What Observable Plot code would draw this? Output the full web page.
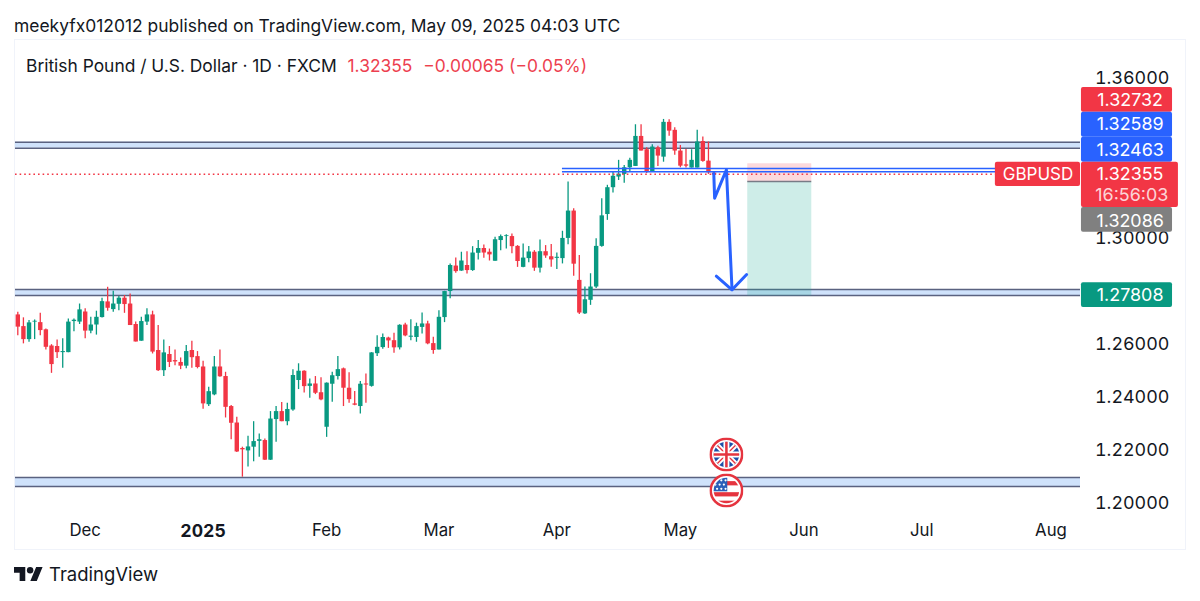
<!DOCTYPE html>
<html><head><meta charset="utf-8">
<script src="https://cdn.jsdelivr.net/npm/d3@7"></script>
<script src="https://cdn.jsdelivr.net/npm/@observablehq/plot@0.6"></script>
<style>
html,body{margin:0;padding:0;background:#fff;width:1200px;height:601px;overflow:hidden;font-family:Inter,sans-serif;color:#131722}
#title{position:absolute;left:14px;top:15px;font-size:17.45px;white-space:nowrap;line-height:22px}
#frame{position:absolute;left:14px;top:39px;width:1170px;height:509px;border:1px solid #f0f3fa}
#legend{position:absolute;left:26px;top:55px;font-size:17.4px;white-space:nowrap;line-height:22px}
#legend .v{color:#ed3f50;margin-left:6px}
#footer{position:absolute;left:14px;top:562px;display:flex;align-items:center;font-size:18.5px;height:24px}
#footer svg{margin-right:6px}
</style></head><body>
<div id="title">meekyfx012012 published on TradingView.com, May 09, 2025 04:03 UTC</div>
<div id="frame"></div>
<div id="legend">British Pound / U.S. Dollar · 1D · FXCM <span class="v">1.32355</span> <span class="v">−0.00065 (−0.05%)</span></div>
<div id="footer"><svg width="29" height="14.5" viewBox="0 4 36 18"><path fill="#131722" d="M14 22H7V11H0V4h14v18zM28 22h-8l7.5-18h8L28 22z"/><circle fill="#131722" cx="20" cy="8" r="4"/></svg>TradingView</div>
<script>
const open = [
1.2710,1.2666,1.2617,1.2683,1.2681,1.2654,1.2593,1.2591,1.2568,1.2568,
1.2685,1.2683,1.2721,1.2649,1.2672,1.2700,1.2759,1.2730,1.2750,1.2773,
1.2751,1.2674,1.2611,1.2683,1.2710,1.2576,1.2500,1.2561,1.2538,1.2531,
1.2517,1.2576,1.2553,1.2514,1.2372,1.2409,1.2514,1.2478,1.2365,1.2303,
1.2207,1.2198,1.2212,1.2234,1.2237,1.2163,1.2316,1.2346,1.2308,1.2352,
1.2463,1.2498,1.2441,1.2450,1.2417,1.2287,1.2449,1.2478,1.2507,1.2434,
1.2375,1.2365,1.2450,1.2441,1.2564,1.2587,1.2623,1.2613,1.2586,1.2672,
1.2626,1.2625,1.2663,1.2676,1.2602,1.2578,1.2700,1.2798,1.2894,1.2875,
1.2896,1.2877,1.2942,1.2960,1.2946,1.2912,1.2990,1.3005,1.3005,1.2968,
1.2889,1.2922,1.2946,1.2886,1.2948,1.2929,1.2923,1.2922,1.2998,1.3101,
1.2840,1.2714,1.2765,1.2815,1.2968,1.3088,1.3189,1.3229,1.3239,1.3264,
1.3269,1.3382,1.3332,1.3250,1.3339,1.3304,1.3435,1.3405,1.3327,1.3275,
1.3263,1.3263,1.3363,1.3289,1.3244];
const close = [
1.2664,1.2617,1.2680,1.2686,1.2651,1.2588,1.2523,1.2568,1.2572,1.2683,
1.2690,1.2729,1.2649,1.2672,1.2701,1.2760,1.2735,1.2751,1.2773,1.2749,
1.2670,1.2608,1.2685,1.2710,1.2570,1.2500,1.2567,1.2531,1.2533,1.2517,
1.2572,1.2549,1.2512,1.2375,1.2421,1.2514,1.2477,1.2362,1.2302,1.2194,
1.2202,1.2213,1.2233,1.2240,1.2163,1.2318,1.2346,1.2308,1.2354,1.2482,
1.2498,1.2440,1.2450,1.2415,1.2390,1.2453,1.2481,1.2504,1.2434,1.2391,
1.2370,1.2449,1.2446,1.2567,1.2588,1.2625,1.2612,1.2586,1.2671,1.2631,
1.2630,1.2666,1.2676,1.2601,1.2576,1.2701,1.2798,1.2896,1.2873,1.2913,
1.2877,1.2943,1.2960,1.2943,1.2936,1.2993,1.3005,1.3008,1.2967,1.2911,
1.2924,1.2947,1.2886,1.2948,1.2932,1.2917,1.2927,1.2998,1.3101,1.2901,
1.2717,1.2767,1.2815,1.2968,1.3083,1.3189,1.3232,1.3240,1.3264,1.3292,
1.3382,1.3327,1.3250,1.3342,1.3308,1.3435,1.3402,1.3327,1.3270,1.3270,
1.3292,1.3361,1.3288,1.3245,1.3236];
const high = [
1.2720,1.2699,1.2689,1.2691,1.2716,1.2657,1.2598,1.2616,1.2620,1.2695,
1.2695,1.2751,1.2733,1.2701,1.2724,1.2773,1.2814,1.2799,1.2779,1.2783,
1.2789,1.2683,1.2701,1.2733,1.2724,1.2670,1.2616,1.2591,1.2578,1.2548,
1.2595,1.2611,1.2572,1.2536,1.2438,1.2553,1.2578,1.2494,1.2369,1.2325,
1.2212,1.2253,1.2308,1.2262,1.2243,1.2346,1.2365,1.2380,1.2377,1.2504,
1.2526,1.2500,1.2469,1.2478,1.2473,1.2454,1.2494,1.2553,1.2510,1.2492,
1.2422,1.2459,1.2488,1.2568,1.2632,1.2638,1.2626,1.2641,1.2673,1.2679,
1.2692,1.2679,1.2717,1.2686,1.2626,1.2726,1.2799,1.2902,1.2924,1.2946,
1.2948,1.2967,1.2990,1.2973,1.2958,1.3002,1.3011,1.3012,1.3015,1.2971,
1.2977,1.2968,1.2952,1.2992,1.2971,1.2975,1.2943,1.3025,1.3210,1.3110,
1.2934,1.2815,1.2865,1.2997,1.3147,1.3198,1.3250,1.3292,1.3273,1.3300,
1.3426,1.3426,1.3339,1.3351,1.3345,1.3446,1.3445,1.3415,1.3348,1.3333,
1.3332,1.3405,1.3380,1.3361,1.3248];
const low = [
1.2632,1.2601,1.2607,1.2617,1.2632,1.2578,1.2490,1.2546,1.2509,1.2568,
1.2647,1.2674,1.2620,1.2639,1.2634,1.2698,1.2724,1.2720,1.2726,1.2716,
1.2670,1.2608,1.2611,1.2670,1.2563,1.2497,1.2478,1.2512,1.2519,1.2504,
1.2507,1.2509,1.2507,1.2355,1.2365,1.2406,1.2475,1.2322,1.2240,1.2192,
1.2099,1.2137,1.2157,1.2174,1.2162,1.2162,1.2231,1.2308,1.2293,1.2347,
1.2429,1.2416,1.2396,1.2410,1.2387,1.2249,1.2381,1.2465,1.2365,1.2377,
1.2368,1.2337,1.2377,1.2438,1.2553,1.2581,1.2584,1.2566,1.2578,1.2628,
1.2613,1.2607,1.2638,1.2598,1.2562,1.2578,1.2681,1.2771,1.2867,1.2874,
1.2864,1.2874,1.2917,1.2923,1.2913,1.2912,1.2952,1.2958,1.2940,1.2889,
1.2888,1.2906,1.2874,1.2868,1.2923,1.2889,1.2881,1.2902,1.2974,1.2856,
1.2712,1.2712,1.2746,1.2809,1.2965,1.3066,1.3169,1.3216,1.3206,1.3250,
1.3269,1.3327,1.3242,1.3250,1.3269,1.3285,1.3383,1.3311,1.3264,1.3263,
1.3263,1.3263,1.3285,1.3239,1.3210];

const monthBars = [12, 55, 75, 96, 118, 140, 161, 184];
const monthNames = ["Dec", "Feb", "Mar", "Apr", "May", "Jun", "Jul", "Aug"];
const yearBars = [33];
const yearNames = ["2025"];
const priceTicks = [1.36, 1.30, 1.26, 1.24, 1.22, 1.20];

const bands = [[1.33377, 1.33603], [1.27831, 1.28057], [1.2064, 1.20979]];
const keyLevels = [1.32613, 1.32489];
const lastPrice = 1.32398;
const boxBars = [130, 141.4];
const stopPrice = 1.3279, entryPrice = 1.32123, targetPrice = 1.27808;

const pathBars = [123.95, 124.1, 126.2, 127.2];
const pathPrices = [1.32425, 1.31495, 1.32564, 1.28046];
const headBars = [124.4, 127.2, 129.8];
const headPrices = [1.28558, 1.28046, 1.28622];

const flagBar = 126.2;
const flagPrices = [1.21845, 1.2049];

const xMin = -0.41, xMax = 189.26;
const GREEN = "#089981", RED = "#f23645", BLUE = "#2962ff", GRAY = "#808080";

const ukFlag = "data:image/svg+xml," + encodeURIComponent(`<svg xmlns="http://www.w3.org/2000/svg" viewBox="0 0 40 40"><defs><clipPath id="c"><circle cx="20" cy="20" r="15"/></clipPath></defs><circle cx="20" cy="20" r="18.5" fill="#fff" stroke="#e5343f" stroke-width="3"/><g clip-path="url(#c)"><rect width="40" height="40" fill="#1c4fa8"/><path d="M2 2L38 38M38 2L2 38" stroke="#fff" stroke-width="6"/><path d="M2 2L38 38M38 2L2 38" stroke="#e5343f" stroke-width="1.6"/><path d="M20 0V40M0 20H40" stroke="#fff" stroke-width="7"/><path d="M20 0V40M0 20H40" stroke="#e5343f" stroke-width="3"/></g></svg>`);
const usFlag = "data:image/svg+xml," + encodeURIComponent(`<svg xmlns="http://www.w3.org/2000/svg" viewBox="0 0 40 40"><defs><clipPath id="c"><circle cx="20" cy="20" r="15"/></clipPath></defs><circle cx="20" cy="20" r="18.5" fill="#fff" stroke="#e5343f" stroke-width="3"/><g clip-path="url(#c)"><rect width="40" height="40" fill="#fff"/><rect x="20" y="9" width="20" height="5" fill="#e5343f"/><rect y="22" width="40" height="5" fill="#e5343f"/><rect y="32" width="40" height="5" fill="#e5343f"/><rect width="21" height="21" fill="#2a5fb8"/><g fill="#fff"><circle cx="9" cy="8" r="1.3"/><circle cx="14" cy="8" r="1.3"/><circle cx="19" cy="8" r="1.3"/><circle cx="7" cy="13" r="1.3"/><circle cx="12" cy="13" r="1.3"/><circle cx="17" cy="13" r="1.3"/><circle cx="9" cy="18" r="1.3"/><circle cx="14" cy="18" r="1.3"/><circle cx="19" cy="18" r="1.3"/></g></g></svg>`);

const bars = open.map((o, i) => ({i, o, c: close[i], h: high[i], l: low[i], col: close[i] < open[i] ? RED : GREEN}));

function tag(text, y1, y2, yc, fill, x2 = 205.65) {
  return [
    Plot.rect([0], {x1: 189.43, x2, y1, y2, fill, rx: 2}),
    Plot.text([text], {x: 198.1, y: yc, text: d => d, fill: "#fff", fontSize: 17.9})
  ];
}

const chart = Plot.plot({
  width: 1170, height: 509,
  marginLeft: 0, marginRight: 105, marginTop: 0, marginBottom: 36,
  style: {fontFamily: "Inter, sans-serif", background: "transparent", overflow: "visible"},
  x: {type: "linear", domain: [xMin, xMax], axis: null},
  y: {type: "linear", domain: [1.19623, 1.37432], axis: null},
  marks: [
    Plot.axisY({anchor: "right", ticks: priceTicks, tickSize: 0, tickPadding: 14.5, tickFormat: d => d.toFixed(5), label: null, fontSize: 17.9, color: "#131722"}),
    Plot.axisX({anchor: "bottom", ticks: monthBars, tickSize: 0, tickPadding: 11, tickFormat: d => monthNames[monthBars.indexOf(d)], label: null, fontSize: 16.8, color: "#131722"}),
    Plot.axisX({anchor: "bottom", ticks: yearBars, tickSize: 0, tickPadding: 11, tickFormat: d => yearNames[yearBars.indexOf(d)], label: null, fontSize: 17.6, fontWeight: 700, color: "#131722"}),

    Plot.rect(bands, {x1: xMin, x2: xMax, y1: d => d[0], y2: d => d[1], fill: "#cfe2fb"}),
    Plot.ruleY(bands.flat(), {x1: xMin, x2: xMax, stroke: "#5a6280", strokeWidth: 1.6}),

    Plot.rect([0], {x1: boxBars[0], x2: boxBars[1], y1: entryPrice, y2: stopPrice, fill: "#f7525f", fillOpacity: 0.22}),
    Plot.rect([0], {x1: boxBars[0], x2: boxBars[1], y1: targetPrice, y2: entryPrice, fill: "#22ab94", fillOpacity: 0.22}),
    Plot.ruleY([entryPrice], {x1: boxBars[0], x2: boxBars[1], stroke: "#787b86", strokeWidth: 1.4}),

    Plot.ruleX(bars, {x: "i", y1: "l", y2: "h", stroke: "col", strokeWidth: 1.3}),
    Plot.ruleX(bars, {x: "i", y1: "o", y2: "c", stroke: "col", strokeWidth: 4.4}),

    Plot.ruleY([lastPrice], {x1: xMin, x2: 174.1, stroke: RED, strokeWidth: 1.6, strokeDasharray: "1.6,3"}),
    Plot.ruleY(keyLevels, {x1: 97, x2: xMax, stroke: BLUE, strokeWidth: 1.6}),

    Plot.line(pathBars.map((x, k) => [x, pathPrices[k]]), {x: d => d[0], y: d => d[1], stroke: BLUE, strokeWidth: 3}),
    Plot.line(headBars.map((x, k) => [x, headPrices[k]]), {x: d => d[0], y: d => d[1], stroke: BLUE, strokeWidth: 3}),

    Plot.image(flagPrices, {x: flagBar, y: d => d, src: (d, k) => k === 0 ? ukFlag : usFlag, width: 34, height: 34}),

    ...tag("1.32732", 1.34733, 1.35663, 1.35173, RED),
    ...tag("1.32589", 1.33791, 1.34733, 1.34270, BLUE),
    ...tag("1.32463", 1.32850, 1.33791, 1.33291, BLUE),
    ...tag("1.32086", 1.30215, 1.31145, 1.30618, GRAY),
    ...tag("1.27808", 1.27380, 1.28310, 1.27831, GREEN),
    Plot.rect([0], {x1: 189.43, x2: 206.7, y1: 1.31145, y2: 1.32850, fill: RED, rx: 2}),
    Plot.text(["1.32355"], {x: 198.1, y: 1.32387, text: d => d, fill: "#fff", fontSize: 17.9}),
    Plot.text(["16:56:03"], {x: 198.4, y: 1.31596, text: d => d, fill: "#fff", fillOpacity: 0.8, fontSize: 17.9}),
    Plot.rect([0], {x1: 174.1, x2: 189.26, y1: 1.31935, y2: 1.32850, fill: RED, rx: 2}),
    Plot.text(["GBPUSD"], {x: 181.7, y: 1.32387, text: d => d, fill: "#fff", fontSize: 17})
  ]
});
document.getElementById("frame").appendChild(chart);
chart.style.display = "block";
</script>
</body></html>
